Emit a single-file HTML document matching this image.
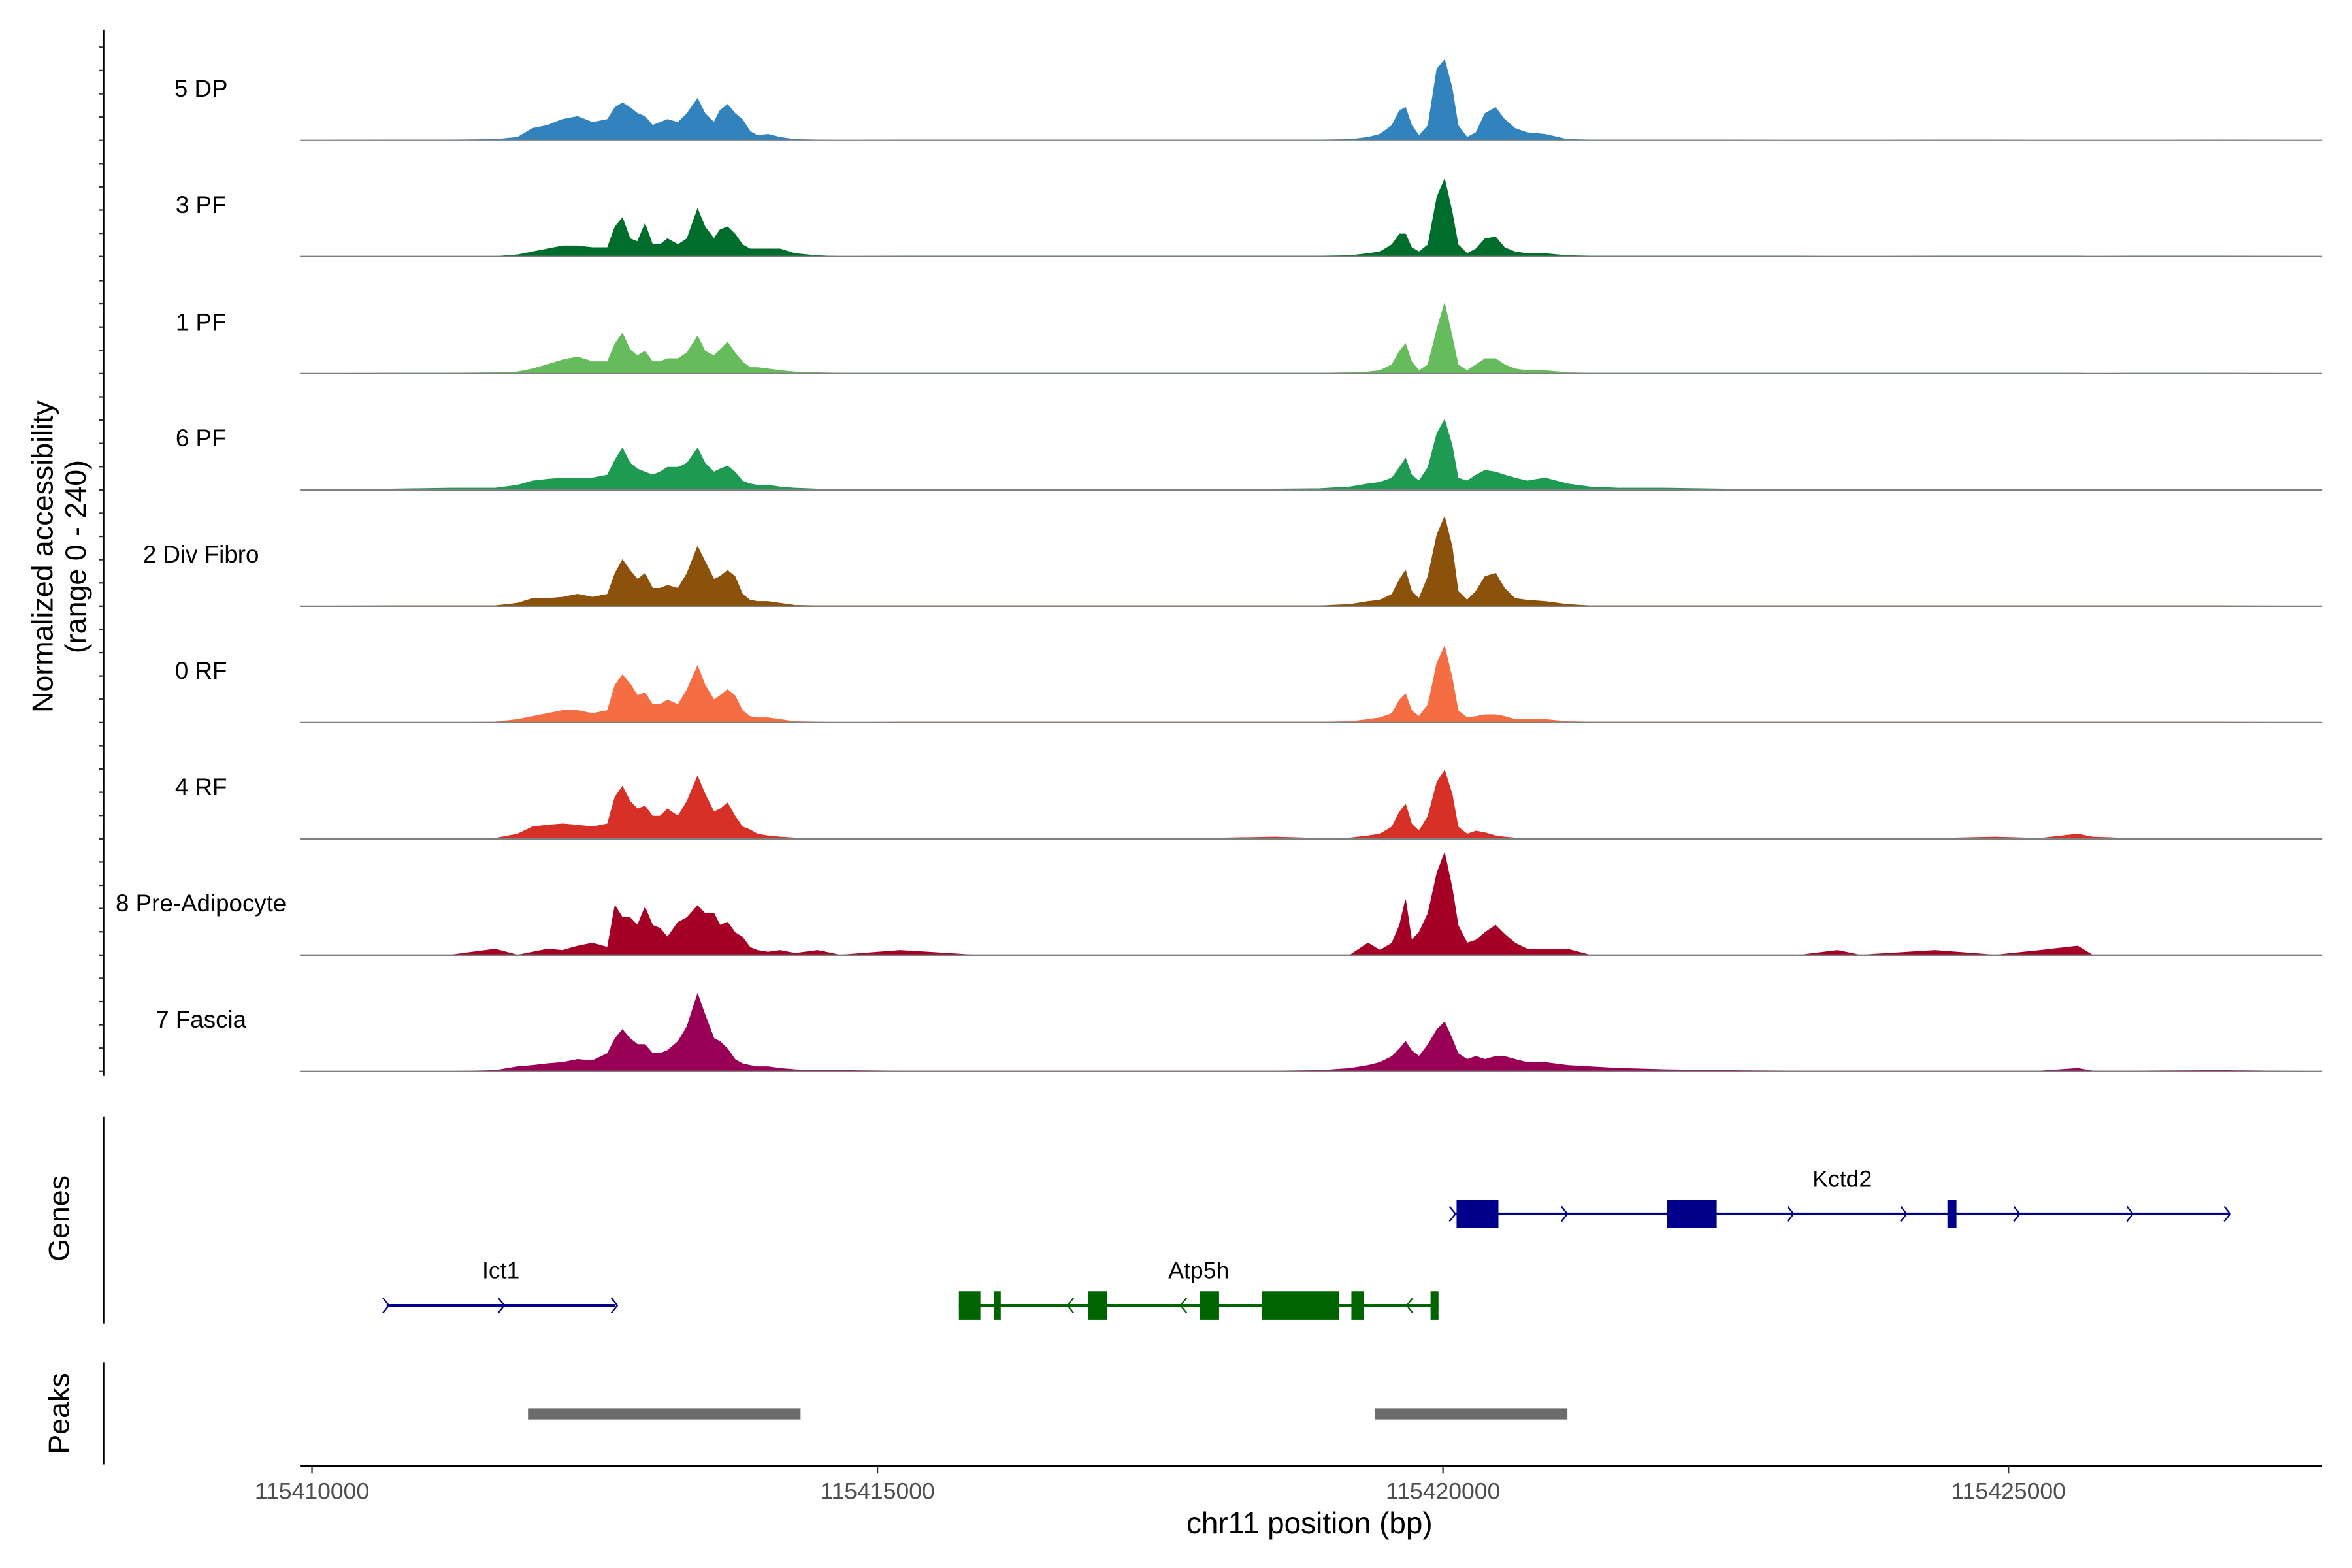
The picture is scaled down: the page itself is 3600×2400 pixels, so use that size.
<!DOCTYPE html>
<html><head><meta charset="utf-8"><style>
html,body{margin:0;padding:0;background:#fff;}
svg{display:block;font-family:"Liberation Sans",sans-serif;}
</style></head><body>
<svg id="chart" width="3600" height="2400" viewBox="0 0 1568 1045" preserveAspectRatio="none" xmlns="http://www.w3.org/2000/svg">
<rect x="0" y="0" width="1568" height="1045" fill="#fff"/>
<g id="tracks"></g>
<g id="axes"></g>
<text transform="translate(35,371) rotate(-90)" text-anchor="middle" font-size="19.5" fill="#000">Normalized accessibility</text>
<text transform="translate(57,371) rotate(-90)" text-anchor="middle" font-size="19.5" fill="#000">(range 0 - 240)</text>
<text transform="translate(46,812) rotate(-90)" text-anchor="middle" font-size="19.5" fill="#000">Genes</text>
<text transform="translate(46,942) rotate(-90)" text-anchor="middle" font-size="19.5" fill="#000">Peaks</text>
<text x="873" y="1022" text-anchor="middle" font-size="20" fill="#000">chr11 position (bp)</text>
<g id="genes"></g>
<g id="peaks"></g>
</svg>
<script>
const regionStart = 115410000;
const binOffsets = [-106,690,1220,1618,1817,1950,2082,2215,2348,2480,2613,2679,2745,2812,2878,2944,3011,3077,3143,3236,3316,3409,3475,3554,3608,3674,3740,3806,3873,3939,4032,4138,4271,4470,4669,5199,5862,6525,7852,8515,8913,9178,9337,9443,9549,9616,9669,9722,9788,9868,9947,10014,10080,10133,10213,10292,10372,10465,10544,10637,10743,10902,11101,11300,11565,11963,12494,13157,13488,13687,14351,14881,15279,15611,15743,16075,16871,17772];
const trackNames = ["5 DP","3 PF","1 PF","6 PF","2 Div Fibro","0 RF","4 RF","8 Pre-Adipocyte","7 Fascia"];
const trackColors = ["#3182bd","#006d2c","#66bb5d","#1f9a52","#8c510a","#f46d43","#d73027","#a50026","#990055"];
const sig5DP = [0,1,1,2,7,28,35,49,56,42,49,77,88,77,63,56,35,42,49,42,63,98,63,42,70,84,63,49,21,11,14,7,2,1,0,1,1,1,1,1,1,2,7,14,35,70,77,35,11,35,168,189,123,35,7,18,63,77,49,28,18,14,2,1,1,1,1,0,0,0,1,1,0,0,0,0,1,0];
const sig3PF = [0,0,0,0,4,11,18,25,25,21,21,70,91,42,35,77,28,28,42,28,42,112,70,42,63,70,53,28,18,18,18,18,7,2,0,1,1,1,1,1,1,2,7,11,28,53,53,21,11,28,140,182,105,28,7,18,42,46,21,11,7,7,2,1,1,1,1,1,0,0,1,1,1,1,0,1,1,0];
const sig1PF = [0,1,1,2,4,11,21,32,39,28,28,70,95,56,42,53,28,28,35,35,49,88,53,42,56,74,49,28,14,14,11,7,4,2,1,1,1,1,1,1,1,2,4,7,21,53,70,28,7,21,105,165,88,21,7,21,35,35,21,11,7,7,2,1,1,1,1,1,1,1,1,1,1,1,0,1,1,0];
const sig6PF = [0,2,4,4,11,21,25,28,28,28,35,70,98,63,49,42,35,42,53,53,63,98,63,42,49,56,42,21,14,11,11,7,4,2,2,2,2,1,1,2,3,7,14,18,28,53,74,35,21,53,133,165,105,28,21,35,46,42,35,28,21,28,14,7,4,4,2,1,1,1,1,1,1,1,0,1,1,0];
const sig2DF = [0,1,1,1,7,18,18,21,28,21,28,77,109,84,63,77,42,42,49,42,77,140,105,63,70,84,70,28,14,11,11,7,2,1,1,1,1,1,1,1,1,4,11,14,28,63,84,35,18,70,168,210,140,35,14,35,70,77,42,18,14,11,4,1,1,1,1,1,1,1,1,1,1,1,1,1,1,0];
const sig0RF = [0,0,0,1,7,14,21,28,28,21,28,88,112,91,63,70,42,42,53,42,77,133,88,53,63,77,63,28,14,11,11,7,2,1,0,1,1,1,1,1,1,2,7,11,21,53,67,28,14,42,140,179,105,28,11,14,18,18,14,7,7,7,2,1,1,1,1,1,1,1,1,1,1,1,1,1,1,0];
const sig4RF = [0,2,1,1,11,28,32,35,32,28,35,98,123,88,70,77,53,53,70,53,88,147,105,63,70,84,53,28,21,11,7,4,2,1,1,1,1,1,1,4,1,2,7,11,28,63,81,35,18,53,133,161,105,28,11,18,14,7,4,2,2,2,2,1,1,1,1,1,1,1,1,4,1,11,4,1,1,0];
const sig8PA = [0,0,0,14,0,7,14,11,21,28,18,116,88,88,70,112,70,63,42,77,88,116,98,98,70,77,53,42,18,11,7,11,4,11,0,11,0,0,0,0,0,0,28,11,28,70,130,35,53,98,193,240,158,70,28,35,53,70,49,28,14,14,14,0,0,0,0,0,11,0,11,0,11,21,0,0,0,0];
const sig7FA = [0,0,0,2,11,14,18,21,28,25,42,77,98,77,63,63,42,42,49,70,105,182,133,77,70,53,28,18,14,11,11,7,4,2,2,1,1,1,1,1,2,7,14,21,35,53,70,49,35,63,98,116,77,42,28,35,28,35,35,28,21,21,14,11,7,4,2,1,1,1,1,1,1,7,1,1,2,0];
const trackSignals = [sig5DP,sig3PF,sig1PF,sig6PF,sig2DF,sig0RF,sig4RF,sig8PA,sig7FA];
const xTicks = [115410000,115415000,115420000,115425000];

const NS = "http://www.w3.org/2000/svg";
function xs(bp){ return 208 + (bp - regionStart) * 377 / 5000; }
function ys(v){ return v / 240 * 68; }
function mk(tag, attrs, parent){ const e=document.createElementNS(NS,tag); for(const k in attrs) e.setAttribute(k,attrs[k]); parent.appendChild(e); return e; }

const tracksG = document.getElementById('tracks');
const axesG = document.getElementById('axes');
const baselines = [93.5,171,249,326.5,404,481.5,559,636.5,714];
const ax = mk('line',{x1:69,x2:69,y1:20,y2:717,stroke:'#000','stroke-width':1.2},axesG);


for(let t=0;t<9;t++){
  for(let k=0;k<5;k++){
    const y = baselines[t] - k*15.5;
    const tk = mk('line',{x1:66,x2:69,y1:y,y2:y,stroke:'#333','stroke-width':1},axesG);
    
    
  }
}
trackSignals.forEach((sig,t)=>{
  const g = mk('g',{},tracksG);
  
  
  const b = baselines[t];
  let d = 'M'+xs(regionStart+binOffsets[0])+','+b;
  for(let i=0;i<sig.length;i++){ d += ' L'+xs(regionStart+binOffsets[i]).toFixed(2)+','+(b-ys(sig[i])).toFixed(2); }
  d += ' L'+xs(regionStart+binOffsets[binOffsets.length-1])+','+b+' Z';
  const p = mk('path',{d:d,fill:trackColors[t],stroke:trackColors[t],'stroke-width':0.5},g);
  
  
  const bl = mk('line',{x1:200,x2:1548,y1:b,y2:b,stroke:'#7f7f7f','stroke-width':1},g);
  
  
  const lb = mk('text',{x:134,y:b-29,'text-anchor':'middle','font-size':16,fill:'#000'},g);
  lb.textContent = trackNames[t];
  
  
});
const gl = mk('line',{x1:69,x2:69,y1:744,y2:882,stroke:'#000','stroke-width':1.2},axesG);


const pl = mk('line',{x1:69,x2:69,y1:908,y2:976,stroke:'#000','stroke-width':1.2},axesG);


const xl = mk('line',{x1:200,x2:1548,y1:977,y2:977,stroke:'#000','stroke-width':1.6},axesG);


xTicks.forEach(v=>{
  const x = xs(v);
  const tk = mk('line',{x1:x,x2:x,y1:977,y2:982,stroke:'#333','stroke-width':1},axesG);
  
  
  const tl = mk('text',{x:x,y:999,'text-anchor':'middle','font-size':15.5,fill:'#4d4d4d'},axesG);
  tl.textContent = String(v);
  
  
});
const genesG = document.getElementById('genes');
const geneNames = ["Kctd2","Ict1","Atp5h"];
const geneStarts = [115420100,115410660,115415720];
const geneEnds = [115426960,115412680,115419960];
const geneStrand = [1,1,-1];
const geneRows = [809,870,870];
const geneColors = ["#00008b","#00008b","#006400"];
const exonGene = [0,0,0,2,2,2,2,2,2,2];
const exonStart = [115420120,115421980,115424460,115415720,115416030,115416860,115417850,115418400,115419190,115419890];
const exonEnd = [115420490,115422420,115424540,115415910,115416090,115417030,115418020,115419080,115419300,115419960];
const arrowPos = [[115420090,115421080,115423080,115424080,115425080,115426080,115426940],[115410660,115411680,115412680],[115416700,115417700,115419700]];
geneNames.forEach((n,i)=>{
  const g = mk('g',{},genesG);
  
  
  const y = geneRows[i], c = geneColors[i];
  const ln = mk('line',{x1:xs(geneStarts[i]),x2:xs(geneEnds[i]),y1:y,y2:y,stroke:c,'stroke-width':1.8},g);
  
  
  arrowPos[i].forEach(a=>{
    const x = xs(a), s = geneStrand[i];
    const ar = mk('path',{d:'M'+(x-2.5*s)+','+(y-5)+' L'+(x+1.5*s)+','+y+' L'+(x-2.5*s)+','+(y+5),fill:'none',stroke:c,'stroke-width':1},g);
    
    
  });
  const t = mk('text',{x:(xs(geneStarts[i])+xs(geneEnds[i]))/2,y:y-18,'text-anchor':'middle','font-size':15.5,fill:'#000'},g);
  t.textContent = n;
  
  
});
exonGene.forEach((gi,k)=>{
  const y = geneRows[gi];
  const r = mk('rect',{x:xs(exonStart[k]),y:y-9.5,width:Math.max(2,xs(exonEnd[k])-xs(exonStart[k])),height:19,fill:geneColors[gi]},genesG);
  
  
});
const peakStarts = [115411910,115419400];
const peakEnds = [115414320,115421100];
const peaksG = document.getElementById('peaks');
peakStarts.forEach((s,i)=>{
  const r = mk('rect',{x:xs(s),y:938.5,width:xs(peakEnds[i])-xs(s),height:7.5,fill:'#6b6b6b'},peaksG);
  
  
});
</script>
</body></html>
